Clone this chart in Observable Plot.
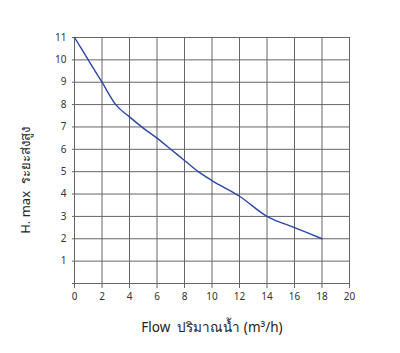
<!DOCTYPE html>
<html>
<head>
<meta charset="utf-8">
<script src="https://cdn.jsdelivr.net/npm/d3@7"></script>
<script src="https://cdn.jsdelivr.net/npm/@observablehq/plot@0.6"></script>
<style>
  html, body { margin: 0; padding: 0; background: #fff; }
  #chart svg { display: block; }
</style>
</head>
<body>
<div id="chart"></div>
<script>
const flow = [0, 1, 2, 3, 4, 5, 6, 7, 8, 9, 10, 12, 14, 16, 18];
const head = [11, 10, 9, 8, 7.45, 6.95, 6.5, 6.0, 5.5, 5.0, 4.6, 3.9, 3.0, 2.5, 2.0];
const xTicks = [0, 2, 4, 6, 8, 10, 12, 14, 16, 18, 20];
const yTicks = [0, 1, 2, 3, 4, 5, 6, 7, 8, 9, 10, 11];
const yTickLabels = [1, 2, 3, 4, 5, 6, 7, 8, 9, 10, 11];
const xLabel = "Flow  ปริมาณน้ำ (m³/h)";
const yLabel = "H. max  ระยะส่งสูง";

const data = flow.map((f, i) => ({flow: f, head: head[i]}));

const chart = Plot.plot({
  width: 400,
  height: 353,
  marginLeft: 74,
  marginRight: 51,
  marginTop: 37,
  marginBottom: 70,
  style: {fontFamily: "'Noto Sans', sans-serif", fontSize: "10px", color: "#333", background: "#fff"},
  x: {domain: [0, 20]},
  y: {domain: [0, 11]},
  marks: [
    Plot.ruleX(xTicks, {stroke: "#666", strokeWidth: 1, strokeOpacity: 1}),
    Plot.ruleY(yTicks, {stroke: "#666", strokeWidth: 1, x1: -0.15, x2: 20}),
    Plot.axisX({ticks: xTicks, tickSize: 5, tickPadding: 4, label: null, stroke: "#666", fill: "#333"}),
    Plot.axisY({ticks: yTickLabels, tickSize: 0, tickPadding: 8, label: null, fill: "#333"}),
    Plot.line(data, {x: "flow", y: "head", stroke: "#2b47a6", strokeWidth: 1.4, curve: "monotone-x"}),
    Plot.text([xLabel], {frameAnchor: "bottom", dy: 48, fontSize: 13.5, fill: "#222"}),
    Plot.text([yLabel], {frameAnchor: "left", textAnchor: "middle", dx: -49, dy: 20, rotate: -90, fontSize: 13, fill: "#222"})
  ]
});
document.getElementById("chart").appendChild(chart);
</script>
</body>
</html>
